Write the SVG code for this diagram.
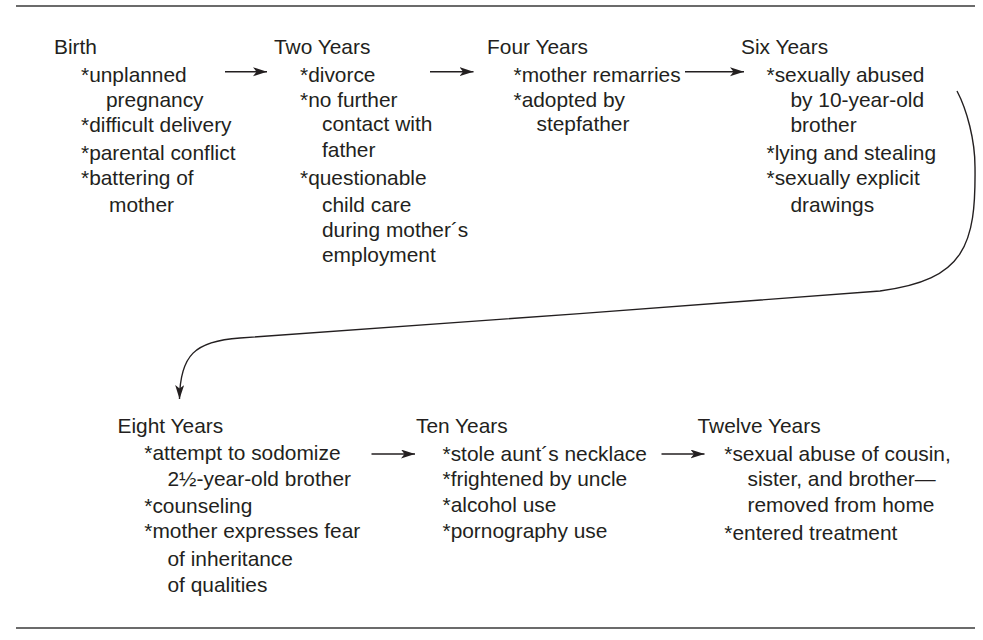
<svg xmlns="http://www.w3.org/2000/svg" width="983" height="640" viewBox="0 0 983 640">
  <style>
    text { font-family: "Liberation Sans", Arial, Helvetica, sans-serif; font-size: 20.9px; fill: #231f20; }
    .rule { stroke: #3a3a3a; stroke-width: 1.6; }
    .conn { fill: none; stroke: #231f20; stroke-width: 1.4; }
  </style>
  <defs>
    <marker id="dart" markerUnits="userSpaceOnUse" markerWidth="16" markerHeight="10" refX="14" refY="4.5" orient="auto">
      <path d="M0,0 L14,4.5 L0,9 L3.5,4.5 Z" fill="#231f20"/>
    </marker>
  </defs>

  <rect width="983" height="640" fill="#ffffff"/>

  <!-- top and bottom rules -->
  <line class="rule" x1="16" y1="6" x2="975" y2="6"/>
  <line class="rule" x1="16" y1="628" x2="975" y2="628"/>

  <g id="birth">
    <text x="54" y="53.5">Birth</text>
    <text x="81" y="81.7">*unplanned</text>
    <text x="106" y="106.7">pregnancy</text>
    <text x="81" y="131.7">*difficult delivery</text>
    <text x="81" y="159.5">*parental conflict</text>
    <text x="81" y="185">*battering of</text>
    <text x="109" y="211.5">mother</text>
  </g>

  <g id="two-years">
    <text x="274" y="53.5">Two Years</text>
    <text x="300" y="81.7">*divorce</text>
    <text x="300" y="106.7">*no further</text>
    <text x="322" y="131">contact with</text>
    <text x="322" y="156.7">father</text>
    <text x="300" y="185">*questionable</text>
    <text x="322" y="211.5">child care</text>
    <text x="322" y="236.7">during mother´s</text>
    <text x="322" y="261.7">employment</text>
  </g>

  <g id="four-years">
    <text x="487" y="53.5">Four Years</text>
    <text x="513.5" y="81.7">*mother remarries</text>
    <text x="513.5" y="106.7">*adopted by</text>
    <text x="536.5" y="131">stepfather</text>
  </g>

  <g id="six-years">
    <text x="741" y="53.5">Six Years</text>
    <text x="766.5" y="81.7">*sexually abused</text>
    <text x="790.5" y="107">by 10-year-old</text>
    <text x="790.5" y="131.7">brother</text>
    <text x="766.5" y="159.5">*lying and stealing</text>
    <text x="766.5" y="185">*sexually explicit</text>
    <text x="790.5" y="211.5">drawings</text>
  </g>

  <g id="eight-years">
    <text x="117.5" y="433.3">Eight Years</text>
    <text x="144.3" y="460">*attempt to sodomize</text>
    <text x="167.5" y="486">2½-year-old brother</text>
    <text x="144.3" y="513">*counseling</text>
    <text x="144.3" y="538.3">*mother expresses fear</text>
    <text x="167.5" y="565.5">of inheritance</text>
    <text x="167.5" y="591.5">of qualities</text>
  </g>

  <g id="ten-years">
    <text x="416" y="433.3">Ten Years</text>
    <text x="442.5" y="460.5">*stole aunt´s necklace</text>
    <text x="442.5" y="485.5">*frightened by uncle</text>
    <text x="442.5" y="511.7">*alcohol use</text>
    <text x="442.5" y="538.3">*pornography use</text>
  </g>

  <g id="twelve-years">
    <text x="697.5" y="433.3">Twelve Years</text>
    <text x="724.3" y="461">*sexual abuse of cousin,</text>
    <text x="747.5" y="486">sister, and brother—</text>
    <text x="747.5" y="511.7">removed from home</text>
    <text x="724.3" y="539.5">*entered treatment</text>
  </g>

  <g id="connectors">
    <line class="conn" x1="225" y1="71.7" x2="267" y2="71.7" marker-end="url(#dart)"/>
    <line class="conn" x1="430" y1="71.7" x2="473.5" y2="71.7" marker-end="url(#dart)"/>
    <line class="conn" x1="685" y1="71.7" x2="744" y2="71.7" marker-end="url(#dart)"/>
    <line class="conn" x1="371.5" y1="454" x2="415" y2="454" marker-end="url(#dart)"/>
    <line class="conn" x1="661.5" y1="454" x2="704.5" y2="454" marker-end="url(#dart)"/>
    <path class="conn" d="M957,91 C967,110 975,140 975,167 C976,245 965,280 880,291 C700,305 400,327 240,338 C195,341 180,355 179.5,399" marker-end="url(#dart)"/>
  </g>
</svg>
